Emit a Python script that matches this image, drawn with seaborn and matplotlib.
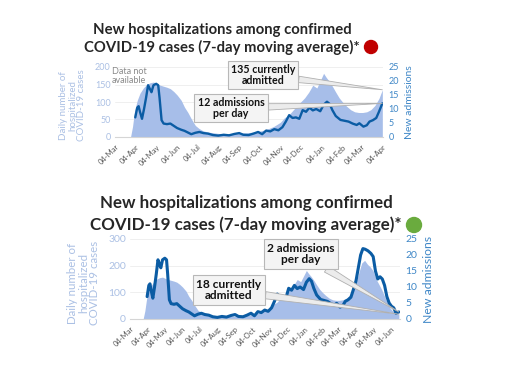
import pandas as pd
import seaborn as sns
import matplotlib.pyplot as plt
import matplotlib.dates as mdates
from matplotlib.patches import Ellipse

# Daily number of hospitalized COVID-19 cases (area, left axis)
hosp_dates = ['2020-03-27', '2020-03-30', '2020-04-02', '2020-04-06', '2020-04-10', '2020-04-15',
              '2020-04-20', '2020-04-25', '2020-04-30', '2020-05-05', '2020-05-10', '2020-05-15',
              '2020-05-20', '2020-05-25', '2020-05-30', '2020-06-04', '2020-06-10', '2020-06-15',
              '2020-06-20', '2020-06-25', '2020-07-01', '2020-07-06', '2020-07-12', '2020-07-20',
              '2020-07-28', '2020-08-05', '2020-08-15', '2020-08-25', '2020-09-04', '2020-09-15',
              '2020-09-25', '2020-10-05', '2020-10-15', '2020-10-25', '2020-11-04', '2020-11-10',
              '2020-11-16', '2020-11-22', '2020-11-28', '2020-12-04', '2020-12-10', '2020-12-16',
              '2020-12-22', '2020-12-28', '2021-01-03', '2021-01-07', '2021-01-11', '2021-01-15',
              '2021-01-20', '2021-01-25', '2021-01-30', '2021-02-04', '2021-02-10', '2021-02-16',
              '2021-02-22', '2021-02-28', '2021-03-06', '2021-03-12', '2021-03-18', '2021-03-24',
              '2021-03-30', '2021-04-04', '2021-04-09', '2021-04-14', '2021-04-19', '2021-04-24',
              '2021-04-29', '2021-05-04', '2021-05-09', '2021-05-14', '2021-05-19', '2021-05-24',
              '2021-05-29', '2021-06-03', '2021-06-08', '2021-06-13', '2021-06-18']
hosp_vals = [0, 30, 75, 105, 125, 140,
             150, 155, 157, 152, 148, 145,
             142, 138, 130, 120, 105, 85,
             70, 52, 33, 25, 18, 14,
             12, 10, 9, 10, 11, 12,
             14, 17, 22, 30, 42, 55,
             62, 75, 88, 100, 112, 128,
             148, 140, 165, 182, 170, 160,
             145, 128, 112, 100, 88, 78,
             72, 70, 70, 72, 78, 90,
             110, 135, 175, 210, 220, 205,
             195, 180, 150, 130, 110, 85,
             60, 40, 28, 21, 18]

# New admissions, 7-day moving average (line, right axis)
adm_dates = ['2020-04-03', '2020-04-06', '2020-04-08', '2020-04-10', '2020-04-13', '2020-04-16',
             '2020-04-19', '2020-04-22', '2020-04-25', '2020-04-27', '2020-04-30', '2020-05-04',
             '2020-05-07', '2020-05-09', '2020-05-12', '2020-05-15', '2020-05-20', '2020-05-25',
             '2020-05-30', '2020-06-04', '2020-06-10', '2020-06-15', '2020-06-20', '2020-06-25',
             '2020-07-01', '2020-07-07', '2020-07-13', '2020-07-20', '2020-07-27', '2020-08-04',
             '2020-08-12', '2020-08-20', '2020-08-28', '2020-09-04', '2020-09-10', '2020-09-18',
             '2020-09-25', '2020-10-02', '2020-10-08', '2020-10-14', '2020-10-20', '2020-10-26',
             '2020-11-01', '2020-11-07', '2020-11-12', '2020-11-17', '2020-11-22', '2020-11-27',
             '2020-12-02', '2020-12-07', '2020-12-12', '2020-12-17', '2020-12-22', '2020-12-27',
             '2021-01-02', '2021-01-07', '2021-01-12', '2021-01-16', '2021-01-20', '2021-01-25',
             '2021-02-01', '2021-02-07', '2021-02-13', '2021-02-19', '2021-02-25', '2021-03-01',
             '2021-03-07', '2021-03-12', '2021-03-16', '2021-03-21', '2021-03-26', '2021-03-30',
             '2021-04-04', '2021-04-08', '2021-04-12', '2021-04-16', '2021-04-20', '2021-04-25',
             '2021-04-30', '2021-05-04', '2021-05-08', '2021-05-12', '2021-05-16', '2021-05-20',
             '2021-05-24', '2021-05-28', '2021-06-01', '2021-06-05', '2021-06-09', '2021-06-13',
             '2021-06-18']
adm_vals = [7.0, 10.5, 11.0, 9.0, 6.5, 10.0,
            14.0, 18.5, 17.0, 16.0, 18.5, 19.0,
            18.5, 14.0, 6.0, 4.8, 4.6, 4.8,
            4.0, 3.2, 2.6, 2.2, 1.6, 1.0,
            1.5, 1.8, 1.4, 1.2, 0.7, 0.5,
            0.8, 0.6, 1.1, 1.4, 0.8, 0.7,
            1.2, 1.8, 1.0, 2.3, 2.0, 2.8,
            2.4, 3.5, 5.5, 7.8, 6.8, 7.0,
            6.5, 9.6, 9.0, 10.5, 9.5, 10.0,
            9.2, 11.5, 12.6, 11.8, 9.6, 7.5,
            6.1, 5.8, 5.5, 4.8, 4.3, 4.9,
            3.7, 4.2, 5.5, 6.0, 6.8, 9.0,
            12.0, 16.0, 20.0, 22.0, 21.8, 21.3,
            20.5, 19.5, 15.0, 12.5, 13.2, 12.5,
            10.5, 7.0, 5.0, 4.0, 3.5, 1.8,
            2.2]

title_1 = 'New hospitalizations among confirmed'
title_2 = 'COVID-19 cases (7-day moving average)*'

hosp = pd.DataFrame({'date': pd.to_datetime(hosp_dates), 'hosp': hosp_vals})
adm = pd.DataFrame({'date': pd.to_datetime(adm_dates), 'adm': adm_vals})

sns.set_style('white')
plt.rcParams['font.family'] = ['Lato', 'DejaVu Sans']

AREA = '#a7bee9'
LINE = '#0b5ca4'
LEFT_TXT = '#abc0e4'
RIGHT_TXT = '#3f87c7'
W, H = 512, 384

fig = plt.figure(figsize=(5.12, 3.84), dpi=100)


def rect(x0, y0, x1, y1):
    # pixel box (top-left origin) -> figure fraction
    return [x0 / W, 1 - y1 / H, (x1 - x0) / W, (y1 - y0) / H]


def fpx(x, y):
    return (x / W, 1 - y / H)


def panel(box, end, ymax, step, tick_fs, lab_fs, lw, lab_x):
    ax = fig.add_axes(rect(*box))
    h = hosp[hosp.date <= end]
    a = adm[adm.date <= end]
    ax.fill_between(h.date, h.hosp, color=AREA, lw=0)
    ax.set_xlim(pd.Timestamp('2020-03-04'), pd.Timestamp(end))
    ax.set_ylim(0, ymax)
    ax.set_yticks(range(0, ymax + 1, step))
    ax.yaxis.grid(True, color='#efefef', lw=0.7)
    ax.set_axisbelow(True)
    ax.xaxis.set_major_locator(mdates.MonthLocator(bymonthday=4))
    ax.xaxis.set_major_formatter(mdates.DateFormatter('%d-%b'))
    ax.tick_params(axis='x', labelsize=5.5, colors='#bbbbbb', labelcolor='#555555',
                   length=2, width=0.6, pad=2.5)
    for t in ax.get_xticklabels():
        t.set_rotation(45)
        t.set_ha('right')
        t.set_rotation_mode('anchor')
    ax.tick_params(axis='y', labelsize=tick_fs, labelcolor=LEFT_TXT, length=0, pad=3)
    ax.set_ylabel('Daily number of\nhospitalized\nCOVID-19 cases', color=LEFT_TXT,
                  fontsize=lab_fs, linespacing=1.0, va='center')
    ax.yaxis.set_label_coords(lab_x, 0.45)
    for s in ['left', 'right', 'top']:
        ax.spines[s].set_visible(False)
    ax.spines['bottom'].set_color('#d5d5d5')

    ax2 = ax.twinx()
    sns.lineplot(data=a, x='date', y='adm', ax=ax2, color=LINE, lw=lw)
    ax2.set_ylim(0, 25)
    ax2.set_yticks(range(0, 26, 5))
    ax2.set_xlabel('')
    ax2.tick_params(axis='y', labelsize=tick_fs, labelcolor=RIGHT_TXT, length=0, pad=4)
    ax2.set_ylabel('New admissions', color=RIGHT_TXT, fontsize=lab_fs + 0.5, labelpad=4)
    for s in ['left', 'right', 'top', 'bottom']:
        ax2.spines[s].set_visible(False)
    ax.set_xlabel('')
    return ax, ax2, h, a


def callout(ax2, txt, date, val, trans, pos, fs):
    ax2.annotate(txt, xy=(mdates.date2num(date), val), xycoords=trans,
                 xytext=(pos[0], H - pos[1]),
                 textcoords='figure pixels', ha='center', va='center',
                 fontsize=fs, fontweight='bold', color='#111111', linespacing=1.0,
                 annotation_clip=False,
                 bbox=dict(boxstyle='square,pad=0.3', fc='#f4f4f4', ec='#b8b8b8', lw=0.8),
                 arrowprops=dict(arrowstyle='wedge,tail_width=0.6', fc='#ececec',
                                 ec='#b0b0b0', lw=0.6, shrinkA=0, shrinkB=0))


# ---------- top panel ----------
ax, ax2, h, a = panel((115, 67, 383, 137), '2021-04-05', 200, 50, 6.5, 7.0, 1.7, -0.157)
fig.text(*fpx(222, 30), title_1, ha='center', va='center', fontsize=10.7, fontweight='bold')
fig.text(*fpx(222, 47), title_2, ha='center', va='center', fontsize=10.7, fontweight='bold')
fig.add_artist(Ellipse(fpx(371, 47), 13 / W, 13 / H, transform=fig.transFigure,
                       color='#c00000'))
fig.text(*fpx(112, 76), 'Data not\navailable', ha='left', va='center', fontsize=6.5,
         color='#8a8a8a', linespacing=1.05)
callout(ax2, '135 currently\nadmitted', h.date.iloc[-1], h.hosp.iloc[-1], ax.transData,
        (263, 75), 7.7)
callout(ax2, '12 admissions\nper day', a.date.iloc[-1], a.adm.iloc[-1], ax2.transData,
        (231, 108), 7.7)

# ---------- bottom panel ----------
ax, ax2, h, a = panel((130, 239, 400, 319), '2021-06-20', 300, 100, 7.5, 8.3, 2.2, -0.172)
fig.text(*fpx(246, 203), title_1, ha='center', va='center', fontsize=12.2, fontweight='bold')
fig.text(*fpx(246, 225), title_2, ha='center', va='center', fontsize=12.2, fontweight='bold')
fig.add_artist(Ellipse(fpx(414, 225), 15 / W, 15 / H, transform=fig.transFigure,
                       color='#6aab3e'))
callout(ax2, '2 admissions\nper day', a.date.iloc[-1], a.adm.iloc[-1], ax2.transData,
        (301, 254), 8.6)
callout(ax2, '18 currently\nadmitted', h.date.iloc[-1], h.hosp.iloc[-1], ax.transData,
        (229, 290), 8.6)

plt.savefig('out.png', dpi=100)
